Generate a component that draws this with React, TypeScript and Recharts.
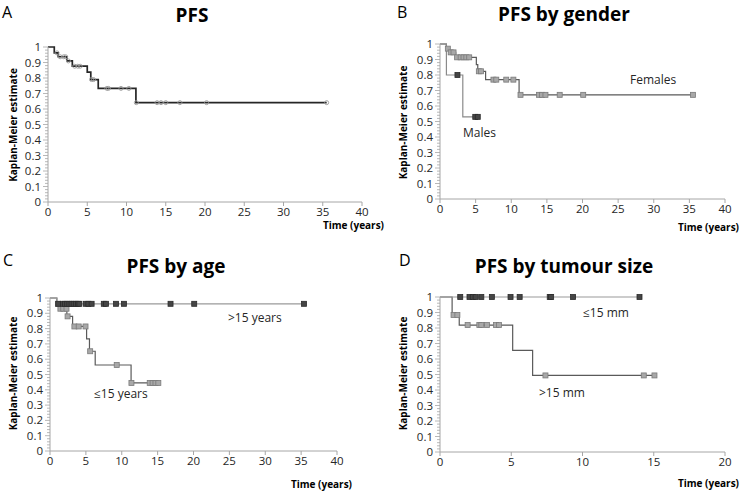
import React from 'react';
import { ComposedChart, Line, Scatter, XAxis, YAxis } from 'recharts';

const FONT = '"Open Sans", sans-serif';
const AXIS = '#a6a6a6';
const INK = '#262626';

// y ticks every 0.02, labelled every 0.1
const yTicks = Array.from({ length: 51 }, (_, i) => (i * 2) / 100);
const xTicks40 = [0, 5, 10, 15, 20, 25, 30, 35, 40];
const xTicks20 = [0, 5, 10, 15, 20];

// A: PFS overall
const pfsTimes = [0, 0.8, 1.3, 2.4, 3.1, 5.0, 5.45, 6.4, 11.2, 35.5];
const pfsSurv = [1, 0.962, 0.937, 0.91, 0.876, 0.838, 0.79, 0.733, 0.641, 0.641];
const pfsCensT = [1.15, 1.55, 2.0, 2.25, 2.6, 3.4, 3.8, 4.1, 5.55, 5.8, 7.5, 7.7, 9.3, 10.3, 11.25, 13.9, 14.4, 15.0, 16.8, 20.2, 35.5];
const pfsCensS = [0.962, 0.937, 0.937, 0.937, 0.91, 0.876, 0.876, 0.876, 0.79, 0.79, 0.733, 0.733, 0.733, 0.733, 0.641, 0.641, 0.641, 0.641, 0.641, 0.641, 0.641];

// B: by gender
const femTimes = [0, 0.9, 1.3, 2.2, 5.1, 5.3, 6.4, 11.1, 35.5];
const femSurv = [1, 0.97, 0.946, 0.914, 0.867, 0.824, 0.77, 0.672, 0.672];
const femCensT = [1.1, 1.5, 1.9, 2.4, 2.9, 3.3, 3.7, 4.1, 5.45, 5.75, 7.5, 7.9, 9.3, 10.3, 11.3, 13.9, 14.3, 14.8, 16.8, 20.1, 35.5];
const femCensS = [0.97, 0.946, 0.946, 0.914, 0.914, 0.914, 0.914, 0.914, 0.824, 0.824, 0.77, 0.77, 0.77, 0.77, 0.672, 0.672, 0.672, 0.672, 0.672, 0.672, 0.672];
const maleTimes = [0, 0.9, 3.2, 5.3];
const maleSurv = [1, 0.8, 0.53, 0.53];
const maleCensT = [2.45, 4.95, 5.3];
const maleCensS = [0.8, 0.53, 0.53];

// C: by age
const oldTimes = [0, 0.95, 35.5];
const oldSurv = [1, 0.962, 0.962];
const oldCensT = [1.15, 1.8, 2.1, 2.4, 2.7, 3.0, 3.3, 3.6, 3.9, 4.1, 5.0, 5.35, 5.8, 7.5, 7.8, 9.2, 10.3, 16.8, 20.1, 35.4];
const youngTimes = [0, 0.95, 1.3, 2.35, 3.15, 5.1, 5.5, 6.3, 11.3, 15.1];
const youngSurv = [1, 0.962, 0.93, 0.88, 0.814, 0.733, 0.652, 0.562, 0.445, 0.445];
const youngCensT = [1.1, 1.45, 1.85, 2.3, 2.45, 3.4, 4.0, 4.95, 5.6, 9.3, 11.35, 13.9, 14.3, 14.7, 15.1];
const youngCensS = [0.962, 0.93, 0.93, 0.93, 0.88, 0.814, 0.814, 0.814, 0.652, 0.562, 0.445, 0.445, 0.445, 0.445, 0.445];

// D: by tumour size
const smallTimes = [0, 14.0];
const smallSurv = [1, 1];
const smallCensT = [1.42, 2.07, 2.3, 2.5, 2.9, 3.64, 4.95, 5.59, 7.7, 7.8, 9.34, 14.0];
const largeTimes = [0, 0.85, 1.35, 5.1, 6.5, 15.05];
const largeSurv = [1, 0.884, 0.819, 0.656, 0.494, 0.494];
const largeCensT = [0.95, 1.22, 1.94, 2.76, 2.9, 3.3, 3.93, 4.14, 7.4, 14.3, 15.05];
const largeCensS = [0.884, 0.884, 0.819, 0.819, 0.819, 0.819, 0.819, 0.819, 0.494, 0.494, 0.494];

const pts = (t: number[], s: number[]) => t.map((v, i) => ({ t: v, s: s[i] }));
const flat = (t: number[], s: number) => t.map((v) => ({ t: v, s }));

const YTick = (props: any) => {
  const { x, y, payload } = props;
  const v = payload.value as number;
  const major = Math.round(v * 100) % 10 === 0;
  const label = String(Math.round(v * 10) / 10);
  return (
    <g>
      <line x1={x - (major ? 5 : 3)} x2={x} y1={y} y2={y} stroke={AXIS} strokeWidth={0.8} />
      {major && (
        <text x={x - 7} y={y} dy={4} textAnchor="end" fontSize={11.5} fill={INK} fontFamily={FONT}>
          {label}
        </text>
      )}
    </g>
  );
};

const square = (fill: string, stroke: string) => (p: any) => (
  <rect x={p.cx - 2.5} y={p.cy - 2.5} width={5} height={5} fill={fill} stroke={stroke} strokeWidth={0.8} />
);
const circle = (p: any) => <circle cx={p.cx} cy={p.cy} r={2} fill="none" stroke="#9a9a9a" strokeWidth={0.9} />;
const lightSq = square('#a8a8a8', '#7a7a7a');
const darkSq = square('#454545', '#2a2a2a');

type Curve = {
  line: { t: number; s: number }[];
  cens: { t: number; s: number }[];
  stroke: string;
  width: number;
  shape: any;
};

function KMPanel({ left, top, margin, xMax, ticks, curves }: {
  left: number; top: number; margin: any; xMax: number; ticks: number[]; curves: Curve[];
}) {
  return (
    <div style={{ position: 'absolute', left, top }}>
      <ComposedChart width={371} height={246} margin={margin}>
        <XAxis
          type="number"
          dataKey="t"
          domain={[0, xMax]}
          ticks={ticks}
          interval={0}
          tickSize={4}
          height={30}
          axisLine={{ stroke: AXIS }}
          tickLine={{ stroke: AXIS }}
          tick={{ fontSize: 11.5, fill: INK, fontFamily: FONT }}
        />
        <YAxis
          type="number"
          dataKey="s"
          domain={[0, 1]}
          ticks={yTicks}
          interval={0}
          tickSize={0}
          tickMargin={0}
          width={30}
          axisLine={{ stroke: AXIS }}
          tickLine={false}
          tick={<YTick />}
        />
        {curves.map((c, i) => (
          <Line
            key={'l' + i}
            data={c.line}
            dataKey="s"
            type="stepAfter"
            stroke={c.stroke}
            strokeWidth={c.width}
            dot={false}
            activeDot={false}
            isAnimationActive={false}
          />
        ))}
        {curves.map((c, i) => (
          <Scatter key={'s' + i} data={c.cens} dataKey="s" shape={c.shape} isAnimationActive={false} />
        ))}
      </ComposedChart>
    </div>
  );
}

const titleStyle = { fontFamily: FONT, fontWeight: 700, fontSize: 19, fill: '#000' } as const;
const letterStyle = { fontFamily: FONT, fontSize: 16, fill: '#000' } as const;
const axisTitle = { fontFamily: FONT, fontWeight: 700, fontSize: 10, fill: '#000' } as const;
const seriesLabel = { fontFamily: FONT, fontSize: 12, fill: INK } as const;

export default function App() {
  return (
    <div style={{ position: 'absolute', left: 0, top: 0, width: 742, height: 492, background: '#fff', overflow: 'hidden' }}>
      <KMPanel
        left={0}
        top={0}
        margin={{ top: 47, right: 9, bottom: 14, left: 18 }}
        xMax={40}
        ticks={xTicks40}
        curves={[{ line: pts(pfsTimes, pfsSurv), cens: pts(pfsCensT, pfsCensS), stroke: '#262626', width: 1.7, shape: circle }]}
      />
      <KMPanel
        left={371}
        top={0}
        margin={{ top: 44, right: 17, bottom: 17, left: 39 }}
        xMax={40}
        ticks={xTicks40}
        curves={[
          { line: pts(femTimes, femSurv), cens: pts(femCensT, femCensS), stroke: '#5a5a5a', width: 1.2, shape: lightSq },
          { line: pts(maleTimes, maleSurv), cens: pts(maleCensT, maleCensS), stroke: '#8a8a8a', width: 1.2, shape: darkSq },
        ]}
      />
      <KMPanel
        left={0}
        top={246}
        margin={{ top: 52, right: 34, bottom: 11, left: 20 }}
        xMax={40}
        ticks={xTicks40}
        curves={[
          { line: pts(youngTimes, youngSurv), cens: pts(youngCensT, youngCensS), stroke: '#5a5a5a', width: 1.2, shape: lightSq },
          { line: pts(oldTimes, oldSurv), cens: flat(oldCensT, 0.962), stroke: '#9a9a9a', width: 1.2, shape: darkSq },
        ]}
      />
      <KMPanel
        left={371}
        top={246}
        margin={{ top: 51, right: 17, bottom: 10, left: 39 }}
        xMax={20}
        ticks={xTicks20}
        curves={[
          { line: pts(largeTimes, largeSurv), cens: pts(largeCensT, largeCensS), stroke: '#5a5a5a', width: 1.2, shape: lightSq },
          { line: pts(smallTimes, smallSurv), cens: flat(smallCensT, 1), stroke: '#9a9a9a', width: 1.2, shape: darkSq },
        ]}
      />
      <svg width={742} height={492} style={{ position: 'absolute', left: 0, top: 0, pointerEvents: 'none' }}>
        <text x={2} y={18} style={letterStyle}>A</text>
        <text x={397} y={18} style={letterStyle}>B</text>
        <text x={3} y={266} style={letterStyle}>C</text>
        <text x={399} y={266} style={letterStyle}>D</text>

        <text x={192} y={21.5} textAnchor="middle" style={titleStyle}>PFS</text>
        <text x={564} y={21} textAnchor="middle" style={titleStyle}>PFS by gender</text>
        <text x={176} y={272.5} textAnchor="middle" style={titleStyle}>PFS by age</text>
        <text x={564} y={272.5} textAnchor="middle" style={titleStyle}>PFS by tumour size</text>

        <text x={13} y={125} transform="rotate(-90 13 125)" textAnchor="middle" dominantBaseline="central" style={axisTitle}>Kaplan-Meier estimate</text>
        <text x={403} y={122.5} transform="rotate(-90 403 122.5)" textAnchor="middle" dominantBaseline="central" style={axisTitle}>Kaplan-Meier estimate</text>
        <text x={13} y={373.5} transform="rotate(-90 13 373.5)" textAnchor="middle" dominantBaseline="central" style={axisTitle}>Kaplan-Meier estimate</text>
        <text x={403} y={373.5} transform="rotate(-90 403 373.5)" textAnchor="middle" dominantBaseline="central" style={axisTitle}>Kaplan-Meier estimate</text>

        <text x={384} y={229} textAnchor="end" style={axisTitle}>Time (years)</text>
        <text x={739} y={231} textAnchor="end" style={axisTitle}>Time (years)</text>
        <text x={352} y={488} textAnchor="end" style={axisTitle}>Time (years)</text>
        <text x={739} y={487} textAnchor="end" style={axisTitle}>Time (years)</text>

        <text x={630} y={84} style={seriesLabel}>Females</text>
        <text x={463} y={136.5} style={seriesLabel}>Males</text>
        <text x={228} y={322} style={seriesLabel}>&gt;15 years</text>
        <text x={94} y={398} style={seriesLabel}>≤15 years</text>
        <text x={583} y={316.5} style={seriesLabel}>≤15 mm</text>
        <text x={539} y={396.5} style={seriesLabel}>&gt;15 mm</text>
      </svg>
    </div>
  );
}
